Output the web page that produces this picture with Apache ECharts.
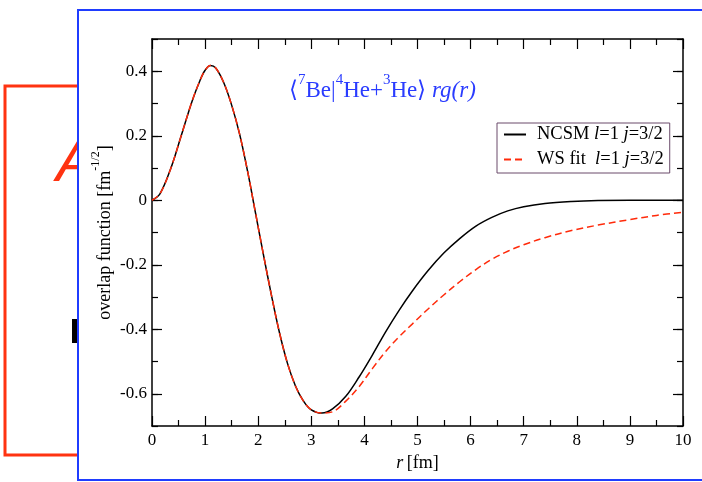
<!DOCTYPE html>
<html>
<head>
<meta charset="utf-8">
<script src="https://cdn.jsdelivr.net/npm/echarts@6/dist/echarts.min.js"></script>
<style>
html,body{margin:0;padding:0;background:#fff;}
#c{width:702px;height:482px;}
</style>
</head>
<body>
<div id="c"></div>
<script>
// r values [fm]
const rValues = [0, 0.15, 0.35, 0.55, 0.75, 0.9, 1.0, 1.1, 1.2, 1.35, 1.5, 1.65, 1.8, 1.95, 2.1, 2.25, 2.4, 2.55, 2.7, 2.85, 3.0, 3.2, 3.4, 3.65, 3.9, 4.15, 4.4, 4.65, 4.9, 5.2, 5.5, 5.8, 6.1, 6.4, 6.7, 7.0, 7.4, 7.9, 8.4, 9.0, 9.5, 10.0];
// NCSM overlap function
const ncsm = [0, 0.02, 0.097, 0.20, 0.305, 0.37, 0.403, 0.418, 0.41, 0.365, 0.295, 0.205, 0.09, -0.04, -0.17, -0.295, -0.41, -0.505, -0.575, -0.622, -0.65, -0.66, -0.647, -0.608, -0.548, -0.48, -0.408, -0.342, -0.282, -0.218, -0.163, -0.118, -0.080, -0.053, -0.033, -0.020, -0.010, -0.004, -0.001, 0, 0, 0];
// Woods-Saxon fit
const wsFit = [0, 0.02, 0.097, 0.20, 0.305, 0.37, 0.403, 0.418, 0.41, 0.365, 0.295, 0.205, 0.09, -0.04, -0.17, -0.295, -0.41, -0.505, -0.575, -0.622, -0.65, -0.66, -0.656, -0.623, -0.578, -0.522, -0.469, -0.424, -0.384, -0.337, -0.293, -0.252, -0.215, -0.183, -0.158, -0.138, -0.116, -0.094, -0.077, -0.060, -0.047, -0.037];
const seriesNames = ['NCSM l=1 j=3/2', 'WS fit  l=1 j=3/2'];
const xTicks = {min: 0, max: 10, major: 1};
const yTicks = {min: -0.7, max: 0.5, minor: 0.1, labelMin: -0.6, labelMax: 0.4, major: 0.2};

const serif = 'Liberation Serif';
const chart = echarts.init(document.getElementById('c'), null, {renderer: 'canvas'});

const pairs = arr => rValues.map((r, i) => [r, arr[i]]);

const gridL = 152, gridR = 19, gridT = 39, gridB = 56;
const pxPerUnit = (482 - gridT - gridB) / (yTicks.max - yTicks.min);
const g2T = gridT + (yTicks.max - yTicks.labelMax) * pxPerUnit;
const g2B = gridB + (yTicks.labelMin - yTicks.min) * pxPerUnit;

const lineAxis = {onZero: false, lineStyle: {color: '#000', width: 1.5}};
const fmtY = v => Math.abs(v) < 1e-9 ? '0' : v.toFixed(1);
const tickStyle = {color: '#000', width: 1.2};

const option = {
  animation: false,
  graphic: [
    {type: 'rect', z: -10, z2: 0, shape: {x: 5, y: 86, width: 200, height: 369}, style: {fill: 'none', stroke: '#ff3311', lineWidth: 3}},
    {type: 'text', z: -10, z2: 1, x: 56, y: 136, style: {text: 'A', fontSize: 58, fontStyle: 'italic', fontFamily: 'Liberation Sans', fill: '#ff3311'}},
    {type: 'rect', z: -10, z2: 2, shape: {x: 72, y: 319, width: 6, height: 24}, style: {fill: '#000'}},
    {type: 'rect', z: -10, z2: 3, shape: {x: 78, y: 10, width: 700, height: 470}, style: {fill: '#fff', stroke: '#1f3cff', lineWidth: 2}}
  ],
  title: {
    left: 284, top: 68,
    text: '{n|⟨}{s|7}{n|Be|}{s|4}{n|He+}{s|3}{n|He⟩ }{i|rg(r)}',
    textStyle: {
      fontWeight: 'normal',
      rich: {
        n: {fontFamily: serif, fontSize: 23, fontWeight: 'normal', color: '#2a3cff', lineHeight: 29, verticalAlign: 'bottom'},
        s: {fontFamily: serif, fontSize: 15, fontWeight: 'normal', color: '#2a3cff', lineHeight: 29, verticalAlign: 'top'},
        i: {fontFamily: serif, fontSize: 23, fontWeight: 'normal', fontStyle: 'italic', color: '#2a3cff', lineHeight: 29, verticalAlign: 'bottom'}
      }
    }
  },
  legend: {
    orient: 'vertical',
    left: 497, top: 123,
    backgroundColor: '#fff',
    borderColor: '#6a4a6a', borderWidth: 1,
    padding: [2, 6, 4, 6],
    itemGap: 6, itemWidth: 22, itemHeight: 14,
    itemStyle: {opacity: 0},
    data: seriesNames,
    formatter: name => name.startsWith('NCSM')
      ? '{n|NCSM }{i|l}{n|=1 }{i|j}{n|=3/2}'
      : '{n|WS fit  }{i|l}{n|=1 }{i|j}{n|=3/2}',
    textStyle: {
      padding: [0, 0, 0, 6],
      rich: {
        n: {fontFamily: serif, fontSize: 18.5, color: '#000', lineHeight: 21},
        i: {fontFamily: serif, fontSize: 18.5, fontStyle: 'italic', color: '#000', lineHeight: 21}
      }
    }
  },
  grid: [
    {left: gridL, right: gridR, top: gridT, bottom: gridB},
    {left: gridL, right: gridR, top: g2T, bottom: g2B}
  ],
  xAxis: [
    {
      type: 'value', gridIndex: 0, position: 'bottom', min: xTicks.min, max: xTicks.max, interval: xTicks.major,
      axisLine: lineAxis, splitLine: {show: false},
      axisTick: {inside: true, length: 10, lineStyle: tickStyle},
      minorTick: {show: true, splitNumber: 2, length: 6, lineStyle: tickStyle},
      axisLabel: {color: '#000', fontFamily: serif, fontSize: 17, margin: 6},
      name: '{i|r} {n|[fm]}', nameLocation: 'middle', nameGap: 28,
      nameTextStyle: {rich: {
        i: {fontFamily: serif, fontSize: 18, fontStyle: 'italic', color: '#000'},
        n: {fontFamily: serif, fontSize: 18, color: '#000'}
      }}
    },
    {
      type: 'value', gridIndex: 0, position: 'top', min: xTicks.min, max: xTicks.max, interval: xTicks.major,
      axisLine: lineAxis, splitLine: {show: false},
      axisTick: {inside: true, length: 10, lineStyle: tickStyle},
      minorTick: {show: true, splitNumber: 2, length: 6, lineStyle: tickStyle},
      axisLabel: {show: false}
    },
    {type: 'value', gridIndex: 1, min: xTicks.min, max: xTicks.max, show: false}
  ],
  yAxis: [
    {
      type: 'value', gridIndex: 0, position: 'left', min: yTicks.min, max: yTicks.max, interval: yTicks.minor,
      axisLine: lineAxis, splitLine: {show: false},
      axisTick: {inside: true, length: 6, lineStyle: tickStyle},
      axisLabel: {show: false},
      name: '{n|overlap function [fm}{s|-1/2}{n|]}', nameLocation: 'middle', nameGap: 38, nameRotate: 90,
      nameTextStyle: {rich: {
        n: {fontFamily: serif, fontSize: 18, color: '#000', lineHeight: 24, verticalAlign: 'bottom'},
        s: {fontFamily: serif, fontSize: 12, color: '#000', lineHeight: 24, verticalAlign: 'top'}
      }}
    },
    {
      type: 'value', gridIndex: 0, position: 'right', min: yTicks.min, max: yTicks.max, interval: yTicks.minor,
      axisLine: lineAxis, splitLine: {show: false},
      axisTick: {inside: true, length: 6, lineStyle: tickStyle},
      axisLabel: {show: false}
    },
    {
      type: 'value', gridIndex: 1, position: 'left', min: yTicks.labelMin, max: yTicks.labelMax, interval: yTicks.major,
      axisLine: {show: false, onZero: false}, splitLine: {show: false},
      axisTick: {show: true, inside: true, length: 10, lineStyle: tickStyle},
      axisLabel: {color: '#000', fontFamily: serif, fontSize: 17, margin: 5, formatter: fmtY}
    },
    {
      type: 'value', gridIndex: 1, position: 'right', min: yTicks.labelMin, max: yTicks.labelMax, interval: yTicks.major,
      axisLine: {show: false, onZero: false}, splitLine: {show: false},
      axisTick: {show: true, inside: true, length: 10, lineStyle: tickStyle},
      axisLabel: {show: false}
    }
  ],
  series: [
    {
      name: seriesNames[0], type: 'line', xAxisIndex: 0, yAxisIndex: 0,
      data: pairs(ncsm), smooth: 0.35, symbol: 'none',
      lineStyle: {color: '#000', width: 1.5}, itemStyle: {color: '#000'}, z: 3
    },
    {
      name: seriesNames[1], type: 'line', xAxisIndex: 0, yAxisIndex: 0,
      data: pairs(wsFit), smooth: 0.35, symbol: 'none',
      lineStyle: {color: '#ff2a0a', width: 1.5, type: [7, 4]}, itemStyle: {color: '#ff2a0a'}, z: 4
    }
  ]
};
chart.setOption(option);
</script>
</body>
</html>
